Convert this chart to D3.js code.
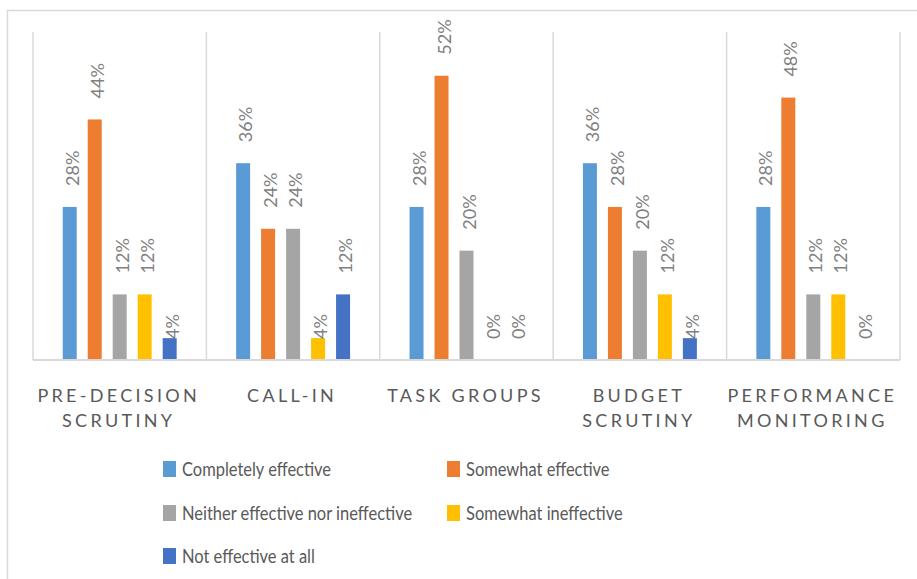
<!DOCTYPE html>
<html>
<head>
<meta charset="utf-8">
<script src="https://cdn.jsdelivr.net/npm/d3@7"></script>
<style>
  html, body { margin: 0; padding: 0; background: #fff; }
  svg { display: block; }
  text { font-family: Lato, "Open Sans", sans-serif; }
</style>
</head>
<body>
<svg id="chart" width="917" height="579"></svg>
<script>
// Scrutiny activities and how effective respondents rated each one
const categories = ["Pre-decision scrutiny", "Call-in", "Task groups", "Budget scrutiny", "Performance monitoring"];
const seriesNames = ["Completely effective", "Somewhat effective", "Neither effective nor ineffective", "Somewhat ineffective", "Not effective at all"];
const seriesColors = ["#5b9bd5", "#ed7d31", "#a5a5a5", "#ffc000", "#4472c4"];

// Share of responses per category (one array per rating)
const completelyEffective   = [0.28, 0.36, 0.28, 0.36, 0.28];
const somewhatEffective     = [0.44, 0.24, 0.52, 0.28, 0.48];
const neitherEffective      = [0.12, 0.24, 0.20, 0.20, 0.12];
const somewhatIneffective   = [0.12, 0.04, 0.00, 0.12, 0.12];
const notEffectiveAtAll     = [0.04, 0.12, 0.00, 0.04, 0.00];
const seriesValues = [completelyEffective, somewhatEffective, neitherEffective, somewhatIneffective, notEffectiveAtAll];

const yMax = 0.6;

const svg = d3.select("#chart");
const plot = { left: 33, right: 900, top: 32, bottom: 360 };

// Outer chart frame
svg.append("rect")
  .attr("x", 7.5).attr("y", 10.5)
  .attr("width", 930).attr("height", 600)
  .attr("fill", "#fff").attr("stroke", "#d9d9d9").attr("stroke-width", 1.5);

const x0 = d3.scaleBand().domain(categories).range([plot.left, plot.right]).padding(0);
const x1 = d3.scaleBand().domain(seriesNames).range([0, x0.bandwidth()])
  .paddingInner(0.44).paddingOuter(1.19);
const y = d3.scaleLinear().domain([0, yMax]).range([plot.bottom, plot.top]);

// Vertical separators between categories
const bounds = categories.map(c => x0(c)).concat([plot.right]);
svg.append("g").selectAll("line").data(bounds).join("line")
  .attr("x1", d => d).attr("x2", d => d)
  .attr("y1", plot.top).attr("y2", plot.bottom)
  .attr("stroke", "#d9d9d9").attr("stroke-width", 1.5);

// Bars
const rows = [];
categories.forEach((c, ci) => {
  seriesNames.forEach((s, si) => {
    rows.push({ cat: c, series: s, color: seriesColors[si], value: seriesValues[si][ci] });
  });
});

svg.append("g").selectAll("rect").data(rows).join("rect")
  .attr("x", d => x0(d.cat) + x1(d.series))
  .attr("y", d => y(d.value))
  .attr("width", x1.bandwidth())
  .attr("height", d => y(0) - y(d.value))
  .attr("fill", d => d.color);

// Baseline
svg.append("line")
  .attr("x1", plot.left).attr("x2", plot.right)
  .attr("y1", plot.bottom).attr("y2", plot.bottom)
  .attr("stroke", "#d9d9d9").attr("stroke-width", 2);

// Rotated value labels above each bar
const fmt = d3.format(".0%");
svg.append("g").selectAll("text").data(rows).join("text")
  .attr("transform", d => {
    const cx = x0(d.cat) + x1(d.series) + x1.bandwidth() / 2 + 9;
    const base = (d.value < 0.05 ? y(0) : y(d.value)) - 21;
    return `translate(${cx},${base}) rotate(-90)`;
  })
  .attr("text-anchor", "start")
  .attr("fill", "#808080")
  .attr("font-size", 18)
  .text(d => fmt(d.value));

// Category axis labels, upper-case, wrapped to the band width
const catLabels = svg.append("g");
categories.forEach(c => {
  const cx = x0(c) + x0.bandwidth() / 2 - 1;
  const t = catLabels.append("text")
    .attr("x", cx)
    .attr("y", 401.5)
    .attr("text-anchor", "middle")
    .attr("fill", "#595959")
    .attr("font-size", 18)
    .attr("letter-spacing", 3.3);
  const words = c.toUpperCase().split(" ");
  let line = [];
  let tspan = t.append("tspan").attr("x", cx).attr("dy", 0);
  words.forEach(w => {
    line.push(w);
    tspan.text(line.join(" "));
    if (tspan.node().getComputedTextLength() > x0.bandwidth() - 4 && line.length > 1) {
      line.pop();
      tspan.text(line.join(" "));
      line = [w];
      tspan = t.append("tspan").attr("x", cx).attr("dy", 25).text(w);
    }
  });
});

// Legend, two columns
const legendCols = [163, 447];
const legendRows = [469, 513, 556];
const legend = svg.append("g").selectAll("g").data(seriesNames).join("g")
  .attr("transform", (d, i) => `translate(${legendCols[i % 2]},${legendRows[Math.floor(i / 2)]})`);
legend.append("rect")
  .attr("x", 0).attr("y", -8).attr("width", 13).attr("height", 16)
  .attr("fill", (d, i) => seriesColors[i]);
legend.append("text")
  .attr("transform", "translate(19,7) scale(0.89,1)")
  .attr("fill", "#595959")
  .attr("font-size", 18.5)
  .text(d => d);
</script>
</body>
</html>
